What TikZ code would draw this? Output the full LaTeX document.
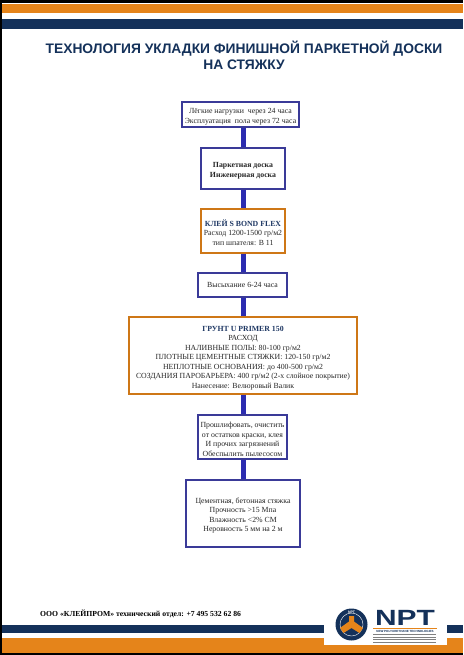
\documentclass[tikz,border=0pt]{standalone}
\usepackage{fontspec}
\setmainfont{Liberation Serif}
\newfontfamily\titlefont{Liberation Sans}
\usepackage{xcolor}
\definecolor{cNavy}{HTML}{14315A}
\definecolor{cOrange}{HTML}{E5841A}
\definecolor{cLink}{HTML}{2C2CB0}
\definecolor{cFrame}{HTML}{3A3A98}
\definecolor{cHead}{HTML}{1F3864}
\newcommand{\tsTop}{\rule{0pt}{10pt}}
\tikzstyle{tsText} = [
    text=black!85,
    font=\fontsize{7.8}{9.5}\selectfont,
    align=center
]
\tikzstyle{tsBox} = [
    rectangle,
    tsText,
    draw=cFrame,
    fill=white,
    line width=1.2pt,
    inner sep=0pt
]
\tikzstyle{tsOrangeBox} = [
    tsBox,
    draw=cOrange!90!black,
    line width=1.8pt
]
\tikzstyle{tsLink} = [
    draw=cLink,
    line width=5pt
]
\begin{document}
\begin{tikzpicture}[x=1pt,y=-1pt]
        \useasboundingbox (0,0) rectangle (463,655);

        % Page and stripes
        \fill[black] (0,0) rectangle (463,655);
        \fill[white] (2,3) rectangle (463,653);
        \fill[cOrange] (2,4) rectangle (463,12.7);
        \fill[cNavy] (2,18.7) rectangle (463,29);
        \fill[cNavy] (2,625) rectangle (463,633);
        \fill[cOrange] (2,638) rectangle (463,653);
        \fill[white] (324,600) rectangle (447,645);

        % Title
        \node[  text=cNavy,
                font=\titlefont\bfseries\fontsize{13.8}{16.2}\selectfont,
                align=center] (title) at (244,55.5)
                {ТЕХНОЛОГИЯ УКЛАДКИ ФИНИШНОЙ ПАРКЕТНОЙ ДОСКИ\\НА СТЯЖКУ};

        % Define nodes
        \node[  tsBox,
                minimum width=117pt,
                minimum height=25pt] (load) at (240.5,114.5)
                {\tsTop Лёгкие нагрузки\ \ через 24 часа\\Эксплуатация\ \ пола через 72 часа};

        \node[  tsBox,
                minimum width=84pt,
                minimum height=41pt] (floor) at (243,168.5)
                {\tsTop\bfseries Паркетная доска\\\bfseries Инженерная доска};

        \node[  tsOrangeBox,
                minimum width=84pt,
                minimum height=44pt] (glue) at (243,231)
                {\tsTop\textcolor{cHead}{\bfseries КЛЕЙ S BOND FLEX}\\Расход 1200-1500 гр/м2\\тип шпателя: В 11};

        \node[  tsBox,
                minimum width=89pt,
                minimum height=24pt] (dry) at (242.5,285)
                {Высыхание 6-24 часа};

        \node[  tsOrangeBox,
                minimum width=228pt,
                minimum height=77pt] (primer) at (243,355.5)
                {\tsTop\textcolor{cHead}{\bfseries ГРУНТ U PRIMER 150}\\РАСХОД\\НАЛИВНЫЕ ПОЛЫ: 80-100 гр/м2\\
                ПЛОТНЫЕ ЦЕМЕНТНЫЕ СТЯЖКИ: 120-150 гр/м2\\НЕПЛОТНЫЕ ОСНОВАНИЯ: до 400-500 гр/м2\\
                СОЗДАНИЯ ПАРОБАРЬЕРА: 400 гр/м2 (2-х слойное покрытие)\\Нанесение: Велюровый Валик};

        \node[  tsBox,
                minimum width=89pt,
                minimum height=44pt] (sand) at (242.5,437)
                {\tsTop Прошлифовать, очистить\\от остатков краски, клея\\И прочих загрязнений\\Обеспылить пылесосом};

        \node[  tsBox,
                minimum width=114pt,
                minimum height=67pt] (base) at (243,513.5)
                {\tsTop Цементная, бетонная стяжка\\Прочность >15 Мпа\\Влажность <2\% СМ\\Неровность 5 мм на 2 м};

        \draw[tsLink] (floor.north) -- (floor.north |- load.south);
        \draw[tsLink] (floor.south) -- (glue.north);
        \draw[tsLink] (glue.south) -- (glue.south |- dry.north);
        \draw[tsLink] (primer.north) -- (primer.north |- dry.south);
        \draw[tsLink] (primer.south) -- (primer.south |- sand.north);
        \draw[tsLink] (base.north) -- (base.north |- sand.south);

        % Footer
        \node[  anchor=west,
                inner sep=0pt,
                text=black,
                font=\bfseries\fontsize{7.7}{10}\selectfont] (phone) at (40,614)
                {ООО «КЛЕЙПРОМ» технический отдел: +7 495 532 62 86};

        % Logo
        \fill[cNavy] (351.5,624.5) circle (16);
        \draw[white, line width=0.4pt] (351.5,624.5) circle (11.5);
        \fill[cOrange] (349,616) -- (354,616) -- (354,621.5) -- (363,628) -- (359.5,633)
            -- (351.5,628) -- (343.5,633) -- (340,628) -- (349,621.5) -- cycle;
        \node[  text=white,
                inner sep=0pt,
                font=\titlefont\bfseries\fontsize{3.5}{3.5}\selectfont] (nptmark) at (351.5,612.5) {NPT};
        \node[  text=cNavy,
                inner sep=0pt,
                font=\titlefont\bfseries\fontsize{22}{22}\selectfont] (npt) at (405,618)
                {\scalebox{1.36}[1]{NPT}};
        \fill[cOrange] (373,628) rectangle (437,628.7);
        \node[  text=cNavy,
                inner sep=0pt,
                font=\titlefont\bfseries\fontsize{3}{3}\selectfont] (npttext) at (405,631)
                {NEW POLYURETHANE TECHNOLOGIES};
        \foreach \y in {634.5,637,639.5,642}
            \draw[gray, line width=0.7pt] (373,\y) -- (436,\y);

    \end{tikzpicture}
\end{document}
